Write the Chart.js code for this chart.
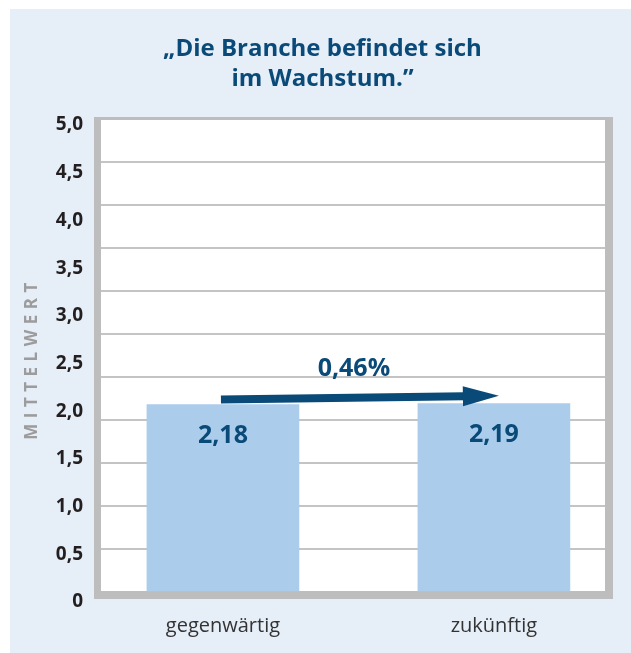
<!DOCTYPE html>
<html lang="de">
<head>
<meta charset="utf-8">
<title>Die Branche befindet sich im Wachstum</title>
<script src="https://cdn.jsdelivr.net/npm/chart.js@4.4.1/dist/chart.umd.min.js"></script>
<style>
  html, body { margin: 0; padding: 0; background: #fff; overflow: hidden; }
  canvas { display: block; }
</style>
</head>
<body>
<canvas id="chart" width="631" height="653"></canvas>
<script>
const categories = ['gegenwärtig', 'zukünftig'];
const values = [2.18, 2.19];
const yTickValues = [0, 0.5, 1, 1.5, 2, 2.5, 3, 3.5, 4, 4.5, 5];
const titleLines = ['„Die Branche befindet sich', 'im Wachstum.”'];
const axisTitle = 'MITTELWERT';

const DARK_BLUE = '#0a4a78';
const BAR_BLUE  = '#abcdeb';
const PANEL     = '#e6eef8';
const FRAME     = '#bdbdbd';
const GRID      = '#c4c4c4';

const comma = (v, d) => v.toFixed(d).replace('.', ',');
// change between the two means, shown above the arrow
const changeLabel = comma((values[1] - values[0]) / values[0] * 100, 2) + '%';

Chart.defaults.font.family = '"Open Sans", "Noto Sans", sans-serif';

const decor = {
  id: 'decor',
  beforeDraw(chart) {
    const { ctx, width, height, chartArea: a } = chart;
    ctx.save();
    ctx.fillStyle = '#fff';
    ctx.fillRect(0, 0, width, height);
    ctx.fillStyle = PANEL;
    ctx.fillRect(10, 9, width - 10, height - 9);
    ctx.fillStyle = '#fff';
    ctx.fillRect(a.left, a.top, a.width, a.height);
    ctx.restore();
  },
  beforeDatasetsDraw(chart) {
    // grey frame, heavier on the right and bottom
    const { ctx, chartArea: a } = chart;
    ctx.save();
    ctx.fillStyle = FRAME;
    ctx.fillRect(a.left - 7, a.top - 2, 7, a.height + 9);
    ctx.fillRect(a.left, a.top - 2, a.width, 3);
    ctx.fillRect(a.right, a.top - 2, 8, a.height + 9);
    ctx.fillRect(a.left - 7, a.bottom - 1, a.width + 15, 8);
    ctx.restore();
  },
  afterDatasetsDraw(chart) {
    const { ctx, chartArea: a } = chart;
    const bars = chart.getDatasetMeta(0).data;
    ctx.save();
    ctx.fillStyle = DARK_BLUE;
    ctx.font = 'bold 25px "Open Sans"';
    ctx.textAlign = 'center';
    ctx.textBaseline = 'middle';
    bars.forEach((bar, i) => ctx.fillText(comma(values[i], 2), bar.x, bar.y + 31));

    // arrow from the first bar over to the second
    const x0 = bars[0].x - 2, y0 = bars[0].y - 5;
    const x1 = bars[1].x + 5, y1 = bars[1].y - 8;
    ctx.fillText(changeLabel, (x0 + x1) / 2 - 6, (y0 + y1) / 2 - 29);
    const len = Math.hypot(x1 - x0, y1 - y0);
    ctx.translate(x0, y0);
    ctx.rotate(Math.atan2(y1 - y0, x1 - x0));
    ctx.fillRect(0, -4, len - 35, 8);
    ctx.beginPath();
    ctx.moveTo(len, 0);
    ctx.lineTo(len - 36, -10);
    ctx.lineTo(len - 36, 10);
    ctx.closePath();
    ctx.fill();
    ctx.restore();

    // spaced-out axis title
    ctx.save();
    ctx.translate(a.left - 69, (a.top + a.bottom) / 2 + 3);
    ctx.rotate(-Math.PI / 2);
    ctx.letterSpacing = '5.5px';
    ctx.font = 'bold 17px "Open Sans"';
    ctx.fillStyle = '#9c9c9c';
    ctx.textAlign = 'center';
    ctx.textBaseline = 'middle';
    ctx.fillText(axisTitle, 0, 0);
    ctx.restore();
  },
};

new Chart(document.getElementById('chart'), {
  type: 'bar',
  data: {
    datasets: [{
      data: values.map((v, i) => ({ x: i, y: v })),
      backgroundColor: BAR_BLUE,
      borderWidth: 0,
      barThickness: 152,
    }],
  },
  options: {
    responsive: false,
    animation: false,
    layout: { padding: { left: 40, right: 26, top: 0, bottom: 0 } },
    plugins: {
      legend: { display: false },
      tooltip: { enabled: false },
      title: {
        display: true,
        text: titleLines,
        color: DARK_BLUE,
        font: { size: 24, weight: 'bold', lineHeight: 1.25 },
        padding: { top: 34, bottom: 25 },
      },
    },
    scales: {
      x: {
        type: 'linear', min: -0.45, max: 1.41, offset: false,
        grid: { display: false, drawTicks: false },
        border: { display: false },
        afterBuildTicks: s => { s.ticks = categories.map((_, i) => ({ value: i })); },
        afterFit: s => { s.height = 61; },
        ticks: {
          callback: v => categories[v],
          padding: 22, autoSkip: false, maxRotation: 0,
          color: '#333', font: { size: 20 },
        },
      },
      y: {
        min: 0, max: 5.5, weight: 0,
        ticks: { display: false, stepSize: 0.5 },
        grid: { color: GRID, lineWidth: 2, drawTicks: false },
        border: { display: false },
      },
      yl: {
        type: 'linear', position: 'left', weight: 1,
        min: 0.105, max: 5.063,
        grid: { display: false, drawTicks: false },
        border: { display: false },
        afterBuildTicks: s => { s.ticks = yTickValues.map(v => ({ value: v })); },
        afterFit: s => { s.width = 61; },
        ticks: {
          callback: v => v === 0 ? '0' : comma(v, 1),
          padding: 18, autoSkip: false,
          color: '#231f20', font: { size: 19, weight: 'bold' },
        },
      },
    },
  },
  plugins: [decor],
});
</script>
</body>
</html>
